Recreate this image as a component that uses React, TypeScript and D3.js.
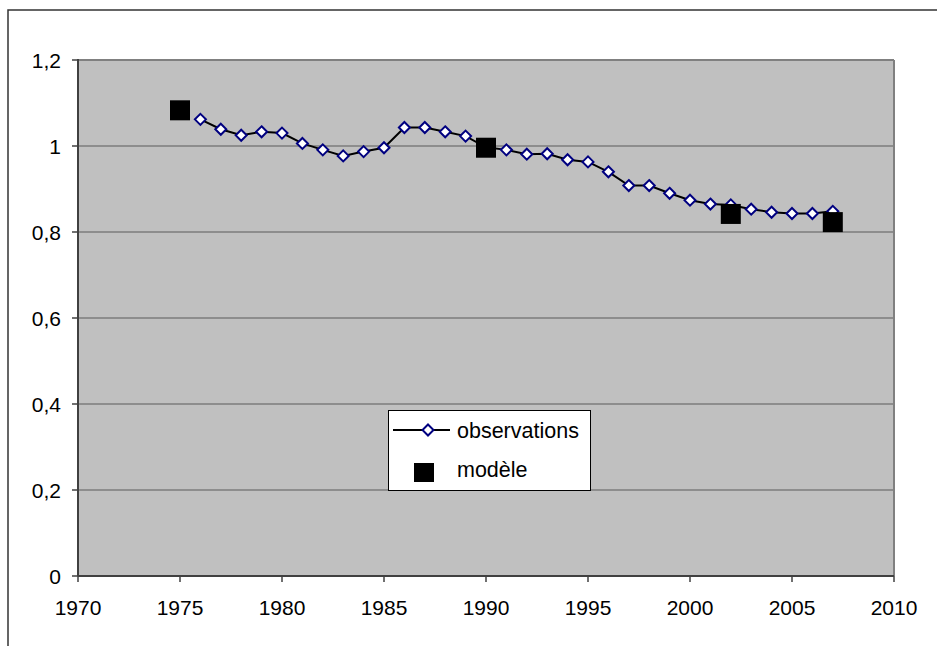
import React from "react";
import * as d3 from "d3";

const obsYears = [1976, 1977, 1978, 1979, 1980, 1981, 1982, 1983, 1984, 1985, 1986, 1987, 1988, 1989, 1990, 1991, 1992, 1993, 1994, 1995, 1996, 1997, 1998, 1999, 2000, 2001, 2002, 2003, 2004, 2005, 2006, 2007];
const obsValues = [1.062, 1.039, 1.025, 1.033, 1.030, 1.006, 0.991, 0.977, 0.987, 0.996, 1.043, 1.043, 1.033, 1.023, 0.997, 0.991, 0.981, 0.982, 0.968, 0.963, 0.940, 0.908, 0.908, 0.890, 0.874, 0.865, 0.863, 0.853, 0.846, 0.843, 0.843, 0.848];
const modelYears = [1975, 1990, 2002, 2007];
const modelValues = [1.083, 0.996, 0.842, 0.823];
const xTicks = [1970, 1975, 1980, 1985, 1990, 1995, 2000, 2005, 2010];
const yTicks = [0, 0.2, 0.4, 0.6, 0.8, 1, 1.2];
const yTickLabels = ["0", "0,2", "0,4", "0,6", "0,8", "1", "1,2"];
const seriesNames = ["observations", "modèle"];

const W = 937, H = 646;
const L = 78, R = 894, T = 60, B = 576;
const FONT = "'Liberation Sans', Arial, sans-serif";

export default function App() {
  const x = d3.scaleLinear().domain([1970, 2010]).range([L, R]);
  const y = d3.scaleLinear().domain([0, 1.2]).range([B, T]);
  const obs = obsYears.map((yr, i) => ({ yr, v: obsValues[i] }));
  const model = modelYears.map((yr, i) => ({ yr, v: modelValues[i] }));
  const line = d3.line<{ yr: number; v: number }>().x(d => x(d.yr)).y(d => y(d.v));
  const diamond = (cx: number, cy: number, r: number) =>
    `M${cx},${cy - r}L${cx + r},${cy}L${cx},${cy + r}L${cx - r},${cy}Z`;

  return (
    <svg width={W} height={H} style={{ position: "absolute", left: 0, top: 0, background: "#fff" }} fontFamily={FONT}>
      <rect x={8} y={10} width={2000} height={2000} fill="#fff" stroke="#333" strokeWidth={1.5} />
      <rect x={L} y={T} width={R - L} height={B - T} fill="#c0c0c0" />
      {yTicks.slice(1).map(t => (
        <line key={"g" + t} x1={L} x2={R} y1={y(t)} y2={y(t)} stroke="#5a5a5a" strokeWidth={1} />
      ))}
      <line x1={L} x2={R} y1={T} y2={T} stroke="#808080" strokeWidth={2} />
      <line x1={R} x2={R} y1={T} y2={B} stroke="#808080" strokeWidth={2} />
      <line x1={L} x2={L} y1={T - 1} y2={B} stroke="#404040" strokeWidth={2} />
      <line x1={L} x2={R} y1={B} y2={B} stroke="#404040" strokeWidth={2} />
      {yTicks.map((t, i) => (
        <g key={"y" + t}>
          <line x1={L - 6} x2={L} y1={y(t)} y2={y(t)} stroke="#404040" strokeWidth={1.5} />
          <text x={61} y={y(t)} dy="0.36em" textAnchor="end" fontSize={21} fill="#000">{yTickLabels[i]}</text>
        </g>
      ))}
      {xTicks.map(t => (
        <g key={"x" + t}>
          <line x1={x(t)} x2={x(t)} y1={B} y2={B + 6} stroke="#404040" strokeWidth={1.5} />
          <text x={x(t)} y={615} textAnchor="middle" fontSize={21} fill="#000">{t}</text>
        </g>
      ))}
      <path d={line(obs) || ""} fill="none" stroke="#000" strokeWidth={2} />
      {obs.map(d => (
        <path key={"o" + d.yr} d={diamond(x(d.yr), y(d.v), 5.5)} fill="#fff" stroke="#000080" strokeWidth={2} />
      ))}
      {model.map(d => (
        <rect key={"m" + d.yr} x={x(d.yr) - 10} y={y(d.v) - 10} width={20} height={20} fill="#000" />
      ))}
      <g>
        <rect x={388.5} y={410.5} width={202} height={80} fill="#fff" stroke="#000" strokeWidth={1} />
        <line x1={393} x2={450} y1={430} y2={430} stroke="#000" strokeWidth={2} />
        <path d={diamond(428, 430, 5.5)} fill="#fff" stroke="#000080" strokeWidth={2} />
        <text x={457} y={430} dy="0.36em" fontSize={21.5} fill="#000">{seriesNames[0]}</text>
        <rect x={414} y={463} width={20} height={19} fill="#000" />
        <text x={457} y={469} dy="0.36em" fontSize={21.5} fill="#000">{seriesNames[1]}</text>
      </g>
    </svg>
  );
}
